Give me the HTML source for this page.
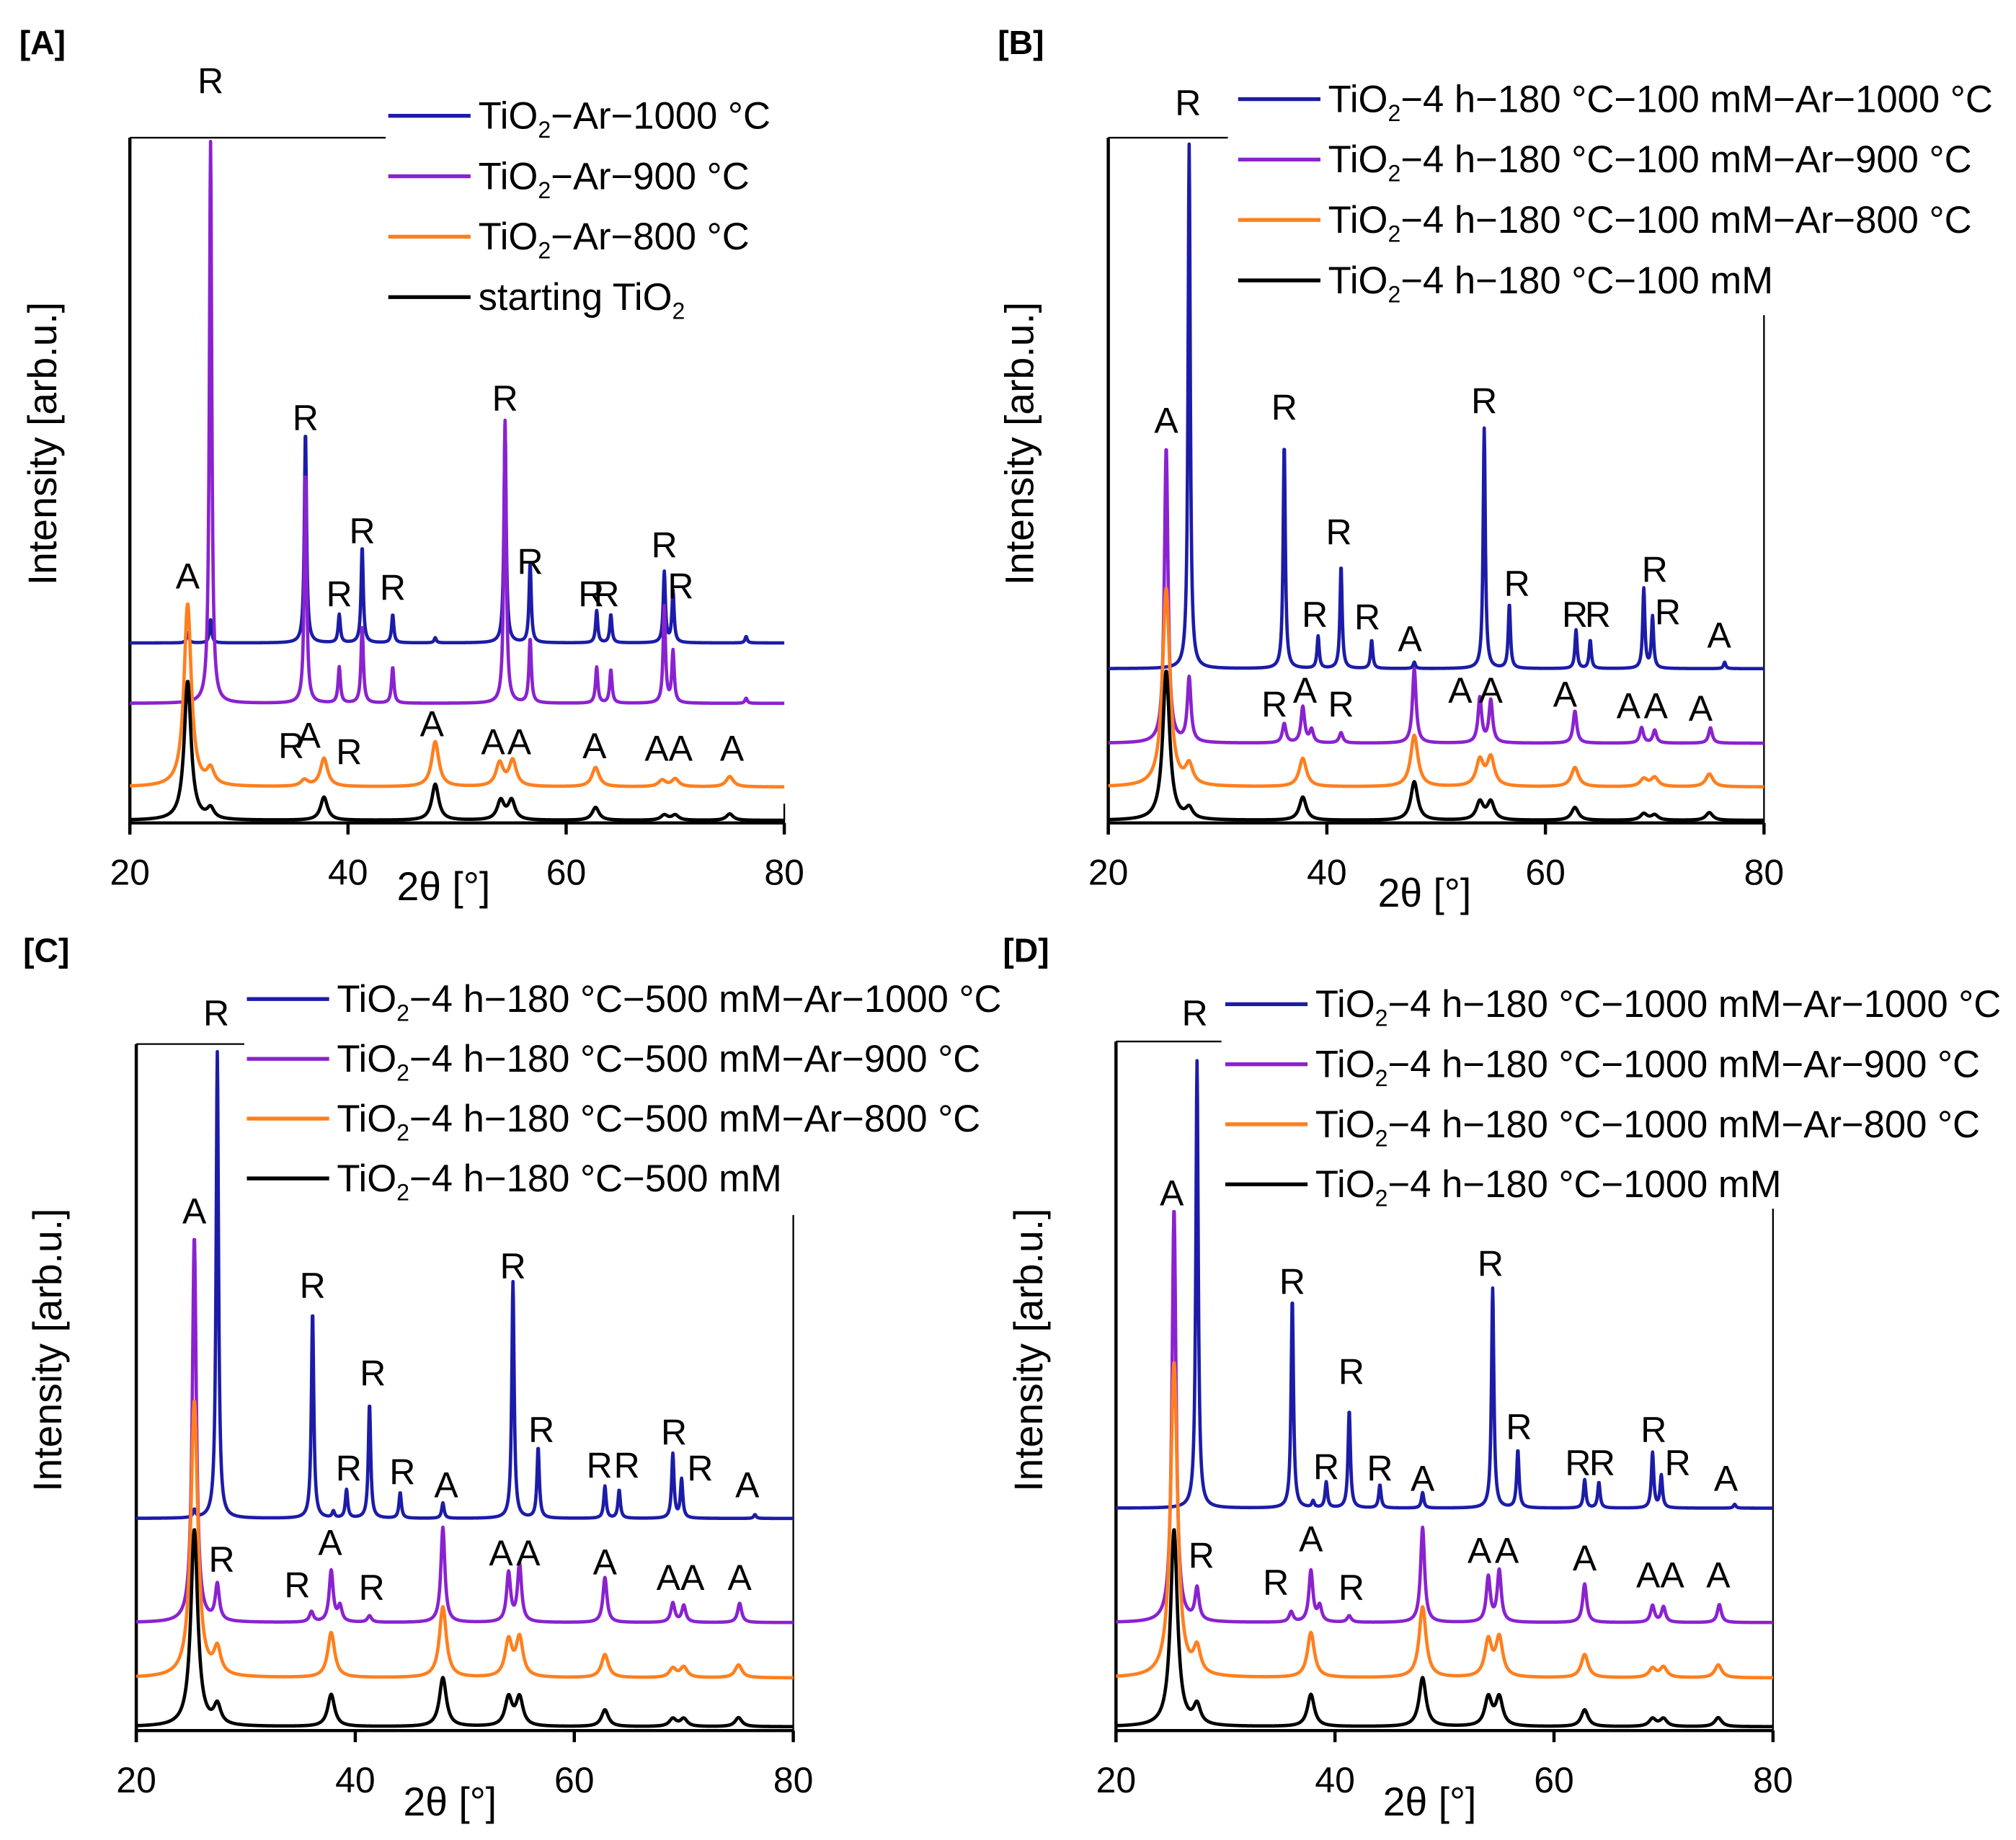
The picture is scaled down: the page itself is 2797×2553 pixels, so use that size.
<!DOCTYPE html>
<html><head><meta charset="utf-8"><style>
html,body{margin:0;padding:0;background:#fff;}
svg{display:block;}
text{font-family:"Liberation Sans",sans-serif;}
</style></head><body>
<svg id="fig" width="2797" height="2553" viewBox="0 0 1568 1431" xmlns="http://www.w3.org/2000/svg"></svg>
<script>
// ---- data (peak positions [deg 2θ], peak heights [arb.u.], vertical offsets [arb.u.]) ----
const ticks = [20, 40, 60, 80];
const seriesColors = ["#1c1ca8", "#8a22d0", "#ff7f1e", "#000000"];

const aLegend = ["TiO|2|−Ar−1000 °C", "TiO|2|−Ar−900 °C", "TiO|2|−Ar−800 °C", "starting TiO|2|"];
const aOffsets = [140, 93, 28, 2];
const aBluePos = [25.3, 27.4, 36.1, 39.2, 41.3, 44.1, 48.0, 54.4, 56.7, 62.8, 64.1, 69.0, 69.8, 76.5];
const aBlueH   = [8, 18, 165, 22, 75, 22, 4, 170, 62, 25, 22, 55, 40, 5];
const aPurpPos = [27.4, 36.1, 39.2, 41.3, 44.1, 54.4, 56.7, 62.8, 64.1, 69.0, 69.8, 76.5];
const aPurpH   = [437, 180, 28, 60, 28, 220, 50, 28, 26, 75, 40, 4];
const aOrPos   = [25.3, 27.4, 36.0, 37.8, 48.0, 53.9, 55.1, 62.7, 68.8, 70.0, 75.0];
const aOrH     = [142, 12, 5, 22, 35, 18, 20, 15, 5, 6, 8];
const aBlkPos  = [25.3, 27.4, 37.8, 48.0, 54.0, 55.0, 62.7, 69.0, 70.0, 75.0];
const aBlkH    = [108, 8, 18, 28, 15, 15, 10, 4, 4, 5];

const bLegend = ["TiO|2|−4 h−180 °C−100 mM−Ar−1000 °C", "TiO|2|−4 h−180 °C−100 mM−Ar−900 °C", "TiO|2|−4 h−180 °C−100 mM−Ar−800 °C", "TiO|2|−4 h−180 °C−100 mM"];
const bOffsets = [120, 62, 28, 2];
const bBluePos = [27.4, 36.1, 39.2, 41.3, 44.1, 48.0, 54.4, 56.7, 62.8, 64.1, 69.0, 69.8, 76.4];
const bBlueH   = [408, 175, 25, 80, 22, 5, 187, 50, 30, 22, 62, 40, 5];
const bPurpPos = [25.3, 27.4, 36.1, 37.8, 38.6, 41.3, 48.0, 54.0, 55.0, 62.7, 68.8, 70.0, 75.1];
const bPurpH   = [230, 50, 15, 28, 10, 8, 58, 35, 33, 25, 12, 10, 12];
const bOrPos   = [25.3, 27.4, 37.8, 48.0, 54.0, 55.0, 62.7, 69.0, 70.0, 75.0];
const bOrH     = [154, 15, 22, 40, 20, 22, 15, 6, 7, 10];
const bBlkPos  = [25.3, 27.4, 37.8, 48.0, 54.0, 55.0, 62.7, 69.0, 70.0, 75.0];
const bBlkH    = [116, 8, 18, 30, 14, 14, 10, 5, 4, 6];

const cLegend = ["TiO|2|−4 h−180 °C−500 mM−Ar−1000 °C", "TiO|2|−4 h−180 °C−500 mM−Ar−900 °C", "TiO|2|−4 h−180 °C−500 mM−Ar−800 °C", "TiO|2|−4 h−180 °C−500 mM"];
const cOffsets = [165, 84, 41, 3];
const cBluePos = [25.3, 27.4, 36.1, 38.0, 39.2, 41.3, 44.1, 48.0, 54.4, 56.7, 62.8, 64.1, 69.0, 69.8, 76.5];
const cBlueH   = [6, 363, 161, 5, 22, 89, 20, 12, 184, 55, 25, 22, 50, 30, 3];
const cPurpPos = [25.3, 27.4, 36.0, 37.8, 38.6, 41.3, 48.0, 54.0, 55.0, 62.8, 69.0, 70.0, 75.1];
const cPurpH   = [300, 28, 8, 40, 12, 5, 74, 38, 45, 35, 15, 13, 15];
const cOrPos   = [25.3, 27.4, 37.8, 48.0, 54.0, 55.0, 62.8, 69.0, 70.0, 75.0];
const cOrH     = [215, 20, 35, 55, 28, 30, 18, 7, 8, 10];
const cBlkPos  = [25.3, 27.4, 37.8, 48.0, 54.0, 55.0, 62.8, 69.0, 70.0, 75.0];
const cBlkH    = [153, 15, 25, 38, 22, 22, 13, 6, 6, 7];

const dLegend = ["TiO|2|−4 h−180 °C−1000 mM−Ar−1000 °C", "TiO|2|−4 h−180 °C−1000 mM−Ar−900 °C", "TiO|2|−4 h−180 °C−1000 mM−Ar−800 °C", "TiO|2|−4 h−180 °C−1000 mM"];
const dOffsets = [173, 84, 41, 3];
const dBluePos = [27.4, 36.1, 38.0, 39.2, 41.3, 44.1, 48.0, 54.4, 56.7, 62.8, 64.1, 69.0, 69.8, 76.5];
const dBlueH   = [348, 163, 5, 20, 76, 18, 12, 171, 45, 22, 20, 43, 25, 3];
const dPurpPos = [25.3, 27.4, 36.0, 37.8, 38.6, 41.3, 48.0, 54.0, 55.0, 62.8, 69.0, 70.0, 75.1];
const dPurpH   = [322, 25, 8, 40, 12, 5, 74, 35, 40, 30, 13, 12, 14];
const dOrPos   = [25.3, 27.4, 37.8, 48.0, 54.0, 55.0, 62.8, 69.0, 70.0, 75.0];
const dOrH     = [245, 20, 35, 55, 28, 30, 18, 7, 8, 10];
const dBlkPos  = [25.3, 27.4, 37.8, 48.0, 54.0, 55.0, 62.8, 69.0, 70.0, 75.0];
const dBlkH    = [153, 15, 25, 38, 22, 22, 13, 6, 6, 7];

const aLabels = [["R",27.4,577],["R",36.1,315],["R",39.2,178],["R",41.3,227],["R",44.1,183],["R",54.4,330],["R",56.7,203],["R",62.3,178],["R",63.7,178],["R",69.0,216],["R",70.5,184],["A",25.3,192],
  ["R",34.8,60],["A",36.4,68],["R",40.1,55],["A",47.7,77],["A",53.3,63],["A",55.7,63],["A",62.6,60],["A",68.3,58],["A",70.5,58],["A",75.2,58]];
const bLabels = [["R",27.3,560],["A",25.3,313],["R",36.1,323],["R",41.1,226],["R",38.9,162],["R",43.7,160],["A",47.6,143],["R",54.4,328],["R",57.4,186],["R",62.7,162],["R",64.8,162],["R",70.0,197],["R",71.2,164],["A",75.9,146],
  ["R",35.2,92],["A",38.0,103],["R",41.3,92],["A",52.2,103],["A",55.0,103],["A",61.8,100],["A",67.6,91],["A",70.1,91],["A",74.2,89]];
const cLabels = [["R",27.3,558],["A",25.3,404],["R",36.1,346],["R",41.6,278],["R",39.4,204],["R",44.3,201],["A",48.3,191],["R",54.4,361],["R",57.0,234],["R",62.3,206],["R",64.8,206],["R",69.1,232],["R",71.5,204],["A",75.8,191],
  ["R",27.8,133],["R",34.7,113],["A",37.7,146],["R",41.5,111],["A",53.3,138],["A",55.8,138],["A",62.8,131],["A",68.6,119],["A",70.8,119],["A",75.1,119]];
const dLabels = [["R",27.2,558],["A",25.1,418],["R",36.1,349],["R",41.5,279],["R",39.2,205],["R",44.1,204],["A",48.0,196],["R",54.2,363],["R",56.8,236],["R",62.2,208],["R",64.4,208],["R",69.1,234],["R",71.3,208],["A",75.7,196],
  ["R",27.8,136],["R",34.6,115],["A",37.8,149],["R",41.5,111],["A",53.2,140],["A",55.7,140],["A",62.8,134],["A",68.6,121],["A",70.8,121],["A",75.0,121]];

// ---- layout ----
const panels = [
  {id:"a", tag:"[A]", tagX:15, tagY:42, x0:101, x1:610, yb:640, topY:107, topX2:300, rightTop:625, ylabX:33, ylabY:345, xlabX:345, xlabY:700, legX:302, legY:90, legDy:47,
   legend:aLegend, offsets:aOffsets, series:[[aBluePos,aBlueH,0.12],[aPurpPos,aPurpH,0.13],[aOrPos,aOrH,0.4],[aBlkPos,aBlkH,0.38]], labels:aLabels},
  {id:"b", tag:"[B]", tagX:776, tagY:42, x0:862, x1:1372, yb:640, topY:107, topX2:955, rightTop:245, ylabX:793, ylabY:345, xlabX:1108, xlabY:705, legX:963, legY:77, legDy:47,
   legend:bLegend, offsets:bOffsets, series:[[bBluePos,bBlueH,0.12],[bPurpPos,bPurpH,0.2],[bOrPos,bOrH,0.4],[bBlkPos,bBlkH,0.38]], labels:bLabels},
  {id:"c", tag:"[C]", tagX:18, tagY:748, x0:106, x1:617, yb:1346, topY:812, topX2:190, rightTop:945, ylabX:37, ylabY:1050, xlabX:350, xlabY:1412, legX:192, legY:777, legDy:46.5,
   legend:cLegend, offsets:cOffsets, series:[[cBluePos,cBlueH,0.13],[cPurpPos,cPurpH,0.22],[cOrPos,cOrH,0.38],[cBlkPos,cBlkH,0.38]], labels:cLabels},
  {id:"d", tag:"[D]", tagX:780, tagY:748, x0:868, x1:1379, yb:1346, topY:810, topX2:950, rightTop:940, ylabX:800, ylabY:1050, xlabX:1112, xlabY:1412, legX:953, legY:781, legDy:46.7,
   legend:dLegend, offsets:dOffsets, series:[[dBluePos,dBlueH,0.13],[dPurpPos,dPurpH,0.22],[dOrPos,dOrH,0.38],[dBlkPos,dBlkH,0.38]], labels:dLabels}
];
const seriesNames = ["ar-1000c","ar-900c","ar-800c","untreated"];
const NS = "http://www.w3.org/2000/svg";
const svg = document.getElementById("fig");
function mk(tag, attrs, parent){const e=document.createElementNS(NS,tag);for(const k in attrs)e.setAttribute(k,attrs[k]);(parent||svg).appendChild(e);return e;}

panels.forEach(p => {
  const g = mk("g", {});
  
  
  const xs = t => p.x0 + (t - 20) / 60 * (p.x1 - p.x0);
  const ys = v => p.yb - v;

  const tag = mk("text", {x:p.tagX, y:p.tagY, "font-size":26, "font-weight":"bold"}, g);
  tag.textContent = p.tag;
  
  

  const frame = mk("path", {d:`M${p.x0},${p.topY} L${p.topX2},${p.topY} M${p.x1},${p.rightTop} L${p.x1},${p.yb}`, stroke:"#000", "stroke-width":1.3, fill:"none"}, g);
  
  
  const yax = mk("line", {x1:p.x0, y1:p.topY, x2:p.x0, y2:p.yb+9, stroke:"#000", "stroke-width":2.5}, g);
  
  
  const xax = mk("line", {x1:p.x0, y1:p.yb, x2:p.x1, y2:p.yb, stroke:"#000", "stroke-width":2.5}, g);
  
  

  ticks.forEach(t => {
    const tk = mk("line", {x1:xs(t), y1:p.yb, x2:xs(t), y2:p.yb+9, stroke:"#000", "stroke-width":2.5}, g);
    
    
    const tl = mk("text", {x:xs(t), y:p.yb+48, "font-size":28, "text-anchor":"middle"}, g);
    tl.textContent = t;
    
    
  });
  const xl = mk("text", {x:p.xlabX, y:p.xlabY, "font-size":31, "text-anchor":"middle"}, g);
  xl.textContent = "2θ [°]";
  
  
  const yl = mk("text", {x:p.ylabX, y:p.ylabY, "font-size":31, "text-anchor":"middle", transform:`rotate(-90 ${p.ylabX} ${p.ylabY})`, "dominant-baseline":"central"}, g);
  yl.textContent = "Intensity [arb.u.]";
  
  

  [0,1,2,3].forEach(si => {
    const [pos, hts, hw] = p.series[si];
    const off = p.offsets[si];
    let d = "";
    for (let t = 20; t <= 80.0001; t += 0.04) {
      let v = off;
      for (let k = 0; k < pos.length; k++) {
        const u = (t - pos[k]) / hw;
        v += hts[k] / (1 + u * u);
      }
      d += (d ? " L" : "M") + xs(t).toFixed(2) + "," + ys(v).toFixed(2);
    }
    const path = mk("path", {d:d, fill:"none", stroke:seriesColors[si], "stroke-width":2.6, "stroke-linejoin":"round"}, g);
    
    
  });

  p.labels.forEach(l => {
    const tx = mk("text", {x:xs(l[1]), y:ys(l[2]), "font-size":28, "text-anchor":"middle", "dominant-baseline":"central"}, g);
    tx.textContent = l[0];
    
    
  });

  const lg = mk("g", {}, g);
  
  
  p.legend.forEach((txt, i) => {
    const y = p.legY + i * p.legDy;
    const ln = mk("line", {x1:p.legX, y1:y, x2:p.legX+64, y2:y, stroke:seriesColors[i], "stroke-width":3}, lg);
    
    
    const te = mk("text", {x:p.legX+70, y:y+10, "font-size":29.5}, lg);
    
    
    const parts = txt.split("|");
    parts.forEach((s, j) => {
      const ts = mk("tspan", {}, te);
      ts.textContent = s;
      if (j === 1) { ts.setAttribute("font-size", 18); ts.setAttribute("dy", 7); }
      if (j === 2) { ts.setAttribute("dy", -7); }
    });
  });
});
</script>
</body></html>
